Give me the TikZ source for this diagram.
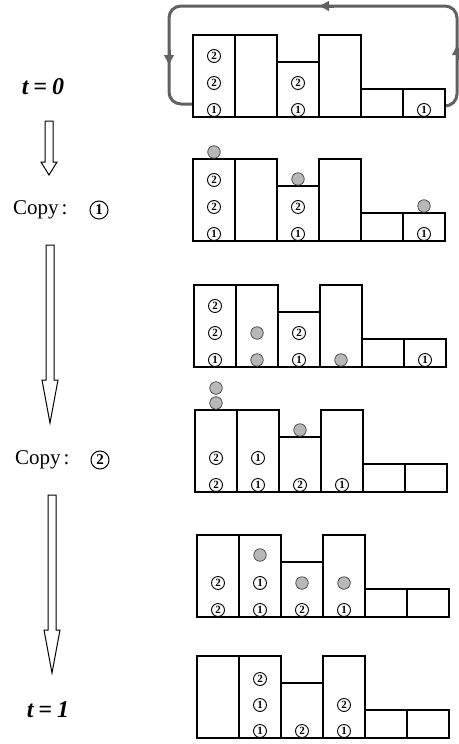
\documentclass[tikz,border=0pt]{standalone}
\usepackage{fontspec}
\setmainfont{Liberation Serif}
\usetikzlibrary{arrows.meta}
\newcommand\drawrow[2]{%
  \foreach \i/\h in {1/82,2/82,3/55,4/82,5/28,6/28}{%
    \draw[colbox] ({#1+(\i-1)*42},#2) rectangle ({#1+\i*42},{#2-\h});}%
  \draw[line width=2.2pt] (#1-1,#2) -- (#1+253,#2);}
\newcommand\putnum[5]{\node[num] (n#2c#3o#4) at ({#1+(#3-0.5)*42},{#2-#4}) {#5};}
\newcommand\putball[4]{\node[ball] (b#2c#3o#4) at ({#1+(#3-0.5)*42},{#2-#4}) {};}
\newcommand\hollowarrow[4]{% x, top, head start, tip
  \draw[hollow] (#1-4,#2) -- (#1-4,#3) -- (#1-8,#3) -- (#1,#4) -- (#1+8,#3) -- (#1+4,#3) -- (#1+4,#2) -- cycle;}
\begin{document}
\begin{tikzpicture}[x=1pt,y=-1pt,
  num/.style={circle,draw,line width=0.9pt,minimum size=13pt,inner sep=0pt,fill=white,
    font=\fontsize{11}{11}\selectfont\bfseries},
  bignum/.style={circle,draw,line width=1pt,minimum size=18pt,inner sep=0pt,
    font=\fontsize{15}{15}\selectfont\bfseries},
  ball/.style={circle,draw=black!75,line width=0.7pt,fill=black!28,minimum size=12.5pt,inner sep=0pt},
  colbox/.style={draw,line width=1.6pt},
  loopline/.style={draw=black!62,line width=3pt,rounded corners=12pt},
  looptip/.style={draw=black!62,line width=3pt,-{Latex[length=11pt,width=11pt]}},
  hollow/.style={draw,line width=1pt,fill=white,line join=miter},
  tlbl/.style={font=\fontsize{24}{24}\selectfont\bfseries\itshape},
  clbl/.style={font=\fontsize{21}{21}\selectfont,anchor=west,inner sep=0pt}
]
\useasboundingbox (0,0) rectangle (458,744);

% loop
\draw[loopline] (445,106) -- (457,106) -- (457,6) -- (169,6) -- (169,104) -- (193,104);
\draw[looptip] (457,60) -- (457,44);
\draw[looptip] (334,6) -- (318,6);
\draw[looptip] (169,50) -- (169,66);

% rows
\drawrow{193}{117}
\putnum{193}{117}{1}{7}{1}\putnum{193}{117}{1}{34}{2}\putnum{193}{117}{1}{61}{2}
\putnum{193}{117}{3}{7}{1}\putnum{193}{117}{3}{34}{2}
\putnum{193}{117}{6}{7}{1}

\drawrow{193}{241}
\putnum{193}{241}{1}{7}{1}\putnum{193}{241}{1}{34}{2}\putnum{193}{241}{1}{61}{2}
\putnum{193}{241}{3}{7}{1}\putnum{193}{241}{3}{34}{2}
\putnum{193}{241}{6}{7}{1}
\putball{193}{241}{1}{89}\putball{193}{241}{3}{62}\putball{193}{241}{6}{35}

\drawrow{194}{367}
\putnum{194}{367}{1}{7}{1}\putnum{194}{367}{1}{34}{2}\putnum{194}{367}{1}{61}{2}
\putball{194}{367}{2}{7}\putball{194}{367}{2}{34}
\putnum{194}{367}{3}{7}{1}\putnum{194}{367}{3}{34}{2}
\putball{194}{367}{4}{7}
\putnum{194}{367}{6}{7}{1}

\drawrow{195}{492}
\putnum{195}{492}{1}{7}{2}\putnum{195}{492}{1}{34}{2}
\putball{195}{492}{1}{89}\putball{195}{492}{1}{104}
\putnum{195}{492}{2}{7}{1}\putnum{195}{492}{2}{34}{1}
\putnum{195}{492}{3}{7}{2}\putball{195}{492}{3}{62}
\putnum{195}{492}{4}{7}{1}

\drawrow{197}{617}
\putnum{197}{617}{1}{7}{2}\putnum{197}{617}{1}{34}{2}
\putnum{197}{617}{2}{7}{1}\putnum{197}{617}{2}{34}{1}\putball{197}{617}{2}{62}
\putnum{197}{617}{3}{7}{2}\putball{197}{617}{3}{34}
\putnum{197}{617}{4}{7}{1}\putball{197}{617}{4}{34}

\drawrow{197}{738}
\putnum{197}{738}{2}{7}{1}\putnum{197}{738}{2}{33}{1}\putnum{197}{738}{2}{59}{2}
\putnum{197}{738}{3}{7}{2}
\putnum{197}{738}{4}{7}{1}\putnum{197}{738}{4}{33}{2}

% left labels
\node[tlbl] (t0) at (43,87) {t\hspace{5pt}=\hspace{5pt}0};
\node[clbl] (c1) at (13,210) {Copy\hspace{3pt}:};
\node[bignum] (c1n) at (99,210) {1};
\node[clbl] (c2) at (15,460) {Copy\hspace{3pt}:};
\node[bignum] (c2n) at (100,460) {2};
\node[tlbl] (t1) at (48,710) {t\hspace{5pt}=\hspace{5pt}1};

\hollowarrow{49}{121}{162}{175}
\hollowarrow{50}{245}{380}{423}
\hollowarrow{52}{495}{630}{673}
\end{tikzpicture}
\end{document}
